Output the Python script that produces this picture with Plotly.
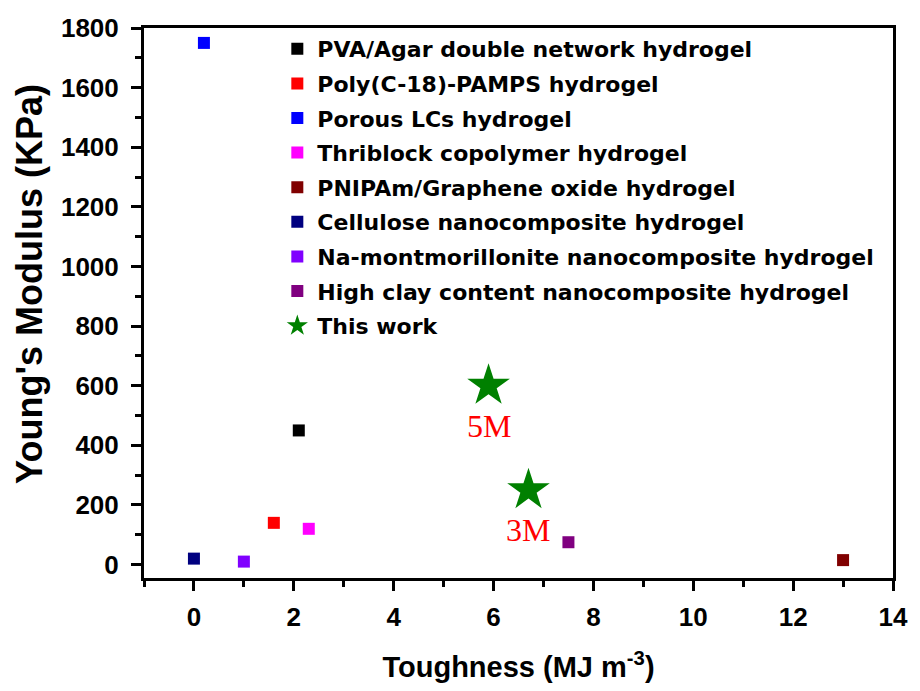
import plotly.graph_objects as go

names = [
    "PVA/Agar double network hydrogel",
    "Poly(C-18)-PAMPS hydrogel",
    "Porous LCs hydrogel",
    "Thriblock copolymer hydrogel",
    "PNIPAm/Graphene oxide hydrogel",
    "Cellulose nanocomposite hydrogel",
    "Na-montmorillonite nanocomposite hydrogel",
    "High clay content nanocomposite hydrogel",
]
toughness = [2.1, 1.6, 0.2, 2.3, 13.0, 0.0, 1.0, 7.5]
modulus = [450, 140, 1750, 120, 15, 20, 10, 75]
colors = ["#000000", "#FF0000", "#0000FF", "#FF00FF", "#800000", "#000080", "#8000FF", "#800080"]

work_name = "This work"
work_toughness = [5.9, 6.7]
work_modulus = [600, 250]
work_labels = ["5M", "3M"]

fig = go.Figure()
for i, (n, x, y, c) in enumerate(zip(names, toughness, modulus, colors)):
    fig.add_trace(go.Scatter(
        x=[x], y=[y], mode="markers", name=n, legendgroup=f"g{i}",
        marker=dict(symbol="square", size=12, color=c, line=dict(width=0)),
    ))
fig.add_trace(go.Scatter(
    x=work_toughness, y=work_modulus, mode="markers", name=work_name, legendgroup="gw",
    marker=dict(symbol="star", size=32, color="#008000", line=dict(width=0)),
))
for x, y, t in zip(work_toughness, work_modulus, work_labels):
    fig.add_annotation(x=x, y=y, text=t, showarrow=False, yshift=-40,
                       font=dict(family="Liberation Serif, Times New Roman, serif", size=32, color="#FF0000"))

fig.add_annotation(xref="paper", yref="paper", x=-0.152, y=0.535, xanchor="center", yanchor="middle",
                   text="<b>Young's Modulus (KPa)</b>", textangle=-90, showarrow=False,
                   font=dict(family="Liberation Sans, Arial, sans-serif", size=36, color="black"))

axis_common = dict(
    showline=True, linewidth=3, linecolor="black", mirror=True,
    ticks="outside", ticklen=10, tickwidth=3, tickcolor="black",
    showgrid=False, zeroline=False,
    tickfont=dict(family="Liberation Sans, Arial, sans-serif", size=26, color="black", weight="bold"),
)

fig.update_xaxes(
    range=[-1, 14], tickmode="array", tickvals=[0, 2, 4, 6, 8, 10, 12, 14],
    minor=dict(tickvals=[-1, 1, 3, 5, 7, 9, 11, 13], ticklen=6, tickwidth=3, tickcolor="black", ticks="outside"),
    ticklabelstandoff=4,
    title=dict(text="<b>Toughness (MJ m<sup>-3</sup>)</b>", standoff=26,
               font=dict(family="Liberation Sans, Arial, sans-serif", size=29, color="black")),
    **axis_common,
)
fig.update_yaxes(
    range=[-45, 1800], tickmode="array", tickvals=list(range(0, 1801, 200)),
    minor=dict(tickvals=list(range(100, 1800, 200)), ticklen=6, tickwidth=3, tickcolor="black", ticks="outside"),
    ticklabelstandoff=7,
    **axis_common,
)

fig.update_layout(
    width=920, height=691,
    margin=dict(l=144, r=22, t=28, b=108),
    paper_bgcolor="white", plot_bgcolor="white",
    showlegend=True,
    legend=dict(
        x=0.178, y=1.0, xanchor="left", yanchor="top",
        bgcolor="rgba(0,0,0,0)", borderwidth=0,
        font=dict(family="DejaVu Sans, sans-serif", size=22, color="black", weight="bold"),
        tracegroupgap=3, itemsizing="trace",
    ),
)

fig.write_html("out.html")
